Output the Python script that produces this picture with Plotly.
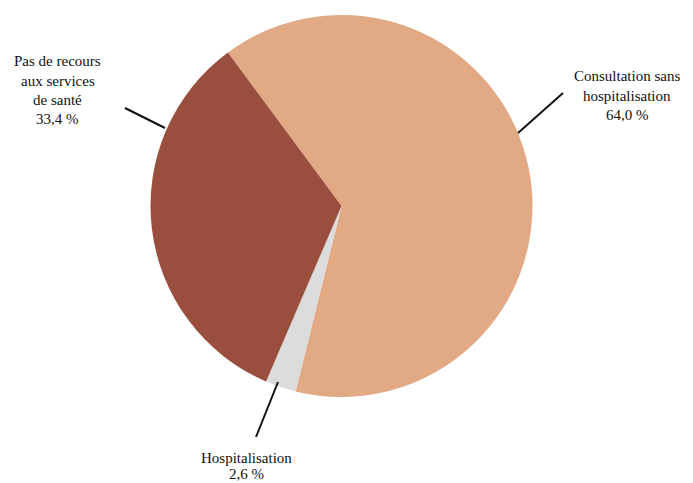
import plotly.graph_objects as go

categories = ["Consultation sans hospitalisation", "Hospitalisation", "Pas de recours aux services de santé"]
values = [64.0, 2.6, 33.4]
value_labels = ["64,0 %", "2,6 %", "33,4 %"]
colors = ["#E2A985", "#DCDCDC", "#9A4E3E"]

# page body has an 8px default margin; work in window pixels
OFF = 8
W, H = 693 - OFF, 483 - OFF

def px(x):
    return (x - OFF) / W

def py(y):
    return 1 - (y - OFF) / H

cx, cy, r = 341.5, 206, 191

fig = go.Figure(go.Pie(
    labels=categories, values=values, sort=False, direction="clockwise",
    rotation=-36.5, textinfo="none", hoverinfo="label+percent",
    marker=dict(colors=colors, line=dict(width=0)),
    domain=dict(x=[px(cx - r), px(cx + r)], y=[py(cy + r), py(cy - r)]),
    showlegend=False,
))

label_blocks = [
    (["Pas de recours", "aux services", "de santé", value_labels[2]], 58, 61, 19.5),
    (["Consultation sans", "hospitalisation", value_labels[0]], 627, 76, 19.5),
    (["Hospitalisation", value_labels[1]], 247, 458, 15.5),
]
annotations = []
for lines, lx, y0, step in label_blocks:
    for i, t in enumerate(lines):
        annotations.append(dict(
            text=t, x=px(lx), y=py(y0 + i * step), xref="paper", yref="paper",
            showarrow=False, xanchor="center", yanchor="middle", borderpad=0,
            font=dict(family="Liberation Serif, Times New Roman, serif", size=15, color="#111111"),
        ))

leaders = [((125, 108), (165, 128)), ((563, 93), (518, 133)), ((278, 382), (256, 437))]
shapes = [dict(type="line", xref="paper", yref="paper",
               x0=px(a[0]), y0=py(a[1]), x1=px(b[0]), y1=py(b[1]),
               line=dict(color="#111111", width=2)) for a, b in leaders]

fig.update_layout(
    width=W, height=H, margin=dict(l=0, r=0, t=0, b=0),
    paper_bgcolor="white", plot_bgcolor="white",
    annotations=annotations, shapes=shapes,
)
fig.write_html("out.html")
